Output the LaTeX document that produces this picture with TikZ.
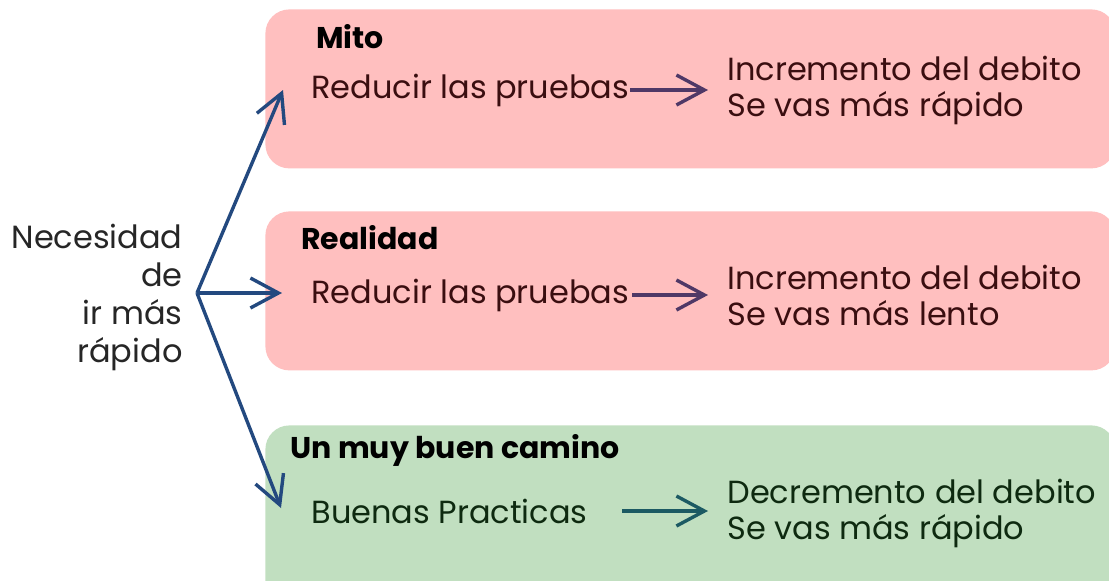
\documentclass[tikz,border=0pt]{standalone}
\usepackage{fontspec}
\setmainfont{Poppins}
\usetikzlibrary{arrows.meta}

\definecolor{rosa}{HTML}{FFBFBF}
\definecolor{verde}{HTML}{C1DFC0}
\definecolor{azul}{HTML}{23497F}
\definecolor{morado}{HTML}{4F3866}
\definecolor{petroleo}{HTML}{1C5A63}
\definecolor{granate}{HTML}{3A0E10}
\definecolor{bosque}{HTML}{0E2A10}

\begin{document}
\begin{tikzpicture}[
        x=0.5pt, y=-0.5pt,
        font=\fontsize{16}{18}\selectfont,
        caja/.style={
            rectangle, rounded corners=12pt, anchor=north west,
            minimum width=425pt, minimum height=79.5pt, inner sep=0pt
        },
        titulo/.style={anchor=west, inner sep=0pt, font=\fontsize{15}{18}\selectfont\bfseries},
        texto/.style={anchor=west, align=left, inner sep=0pt},
        flecha/.style={-{Straight Barb[length=14pt,width=15pt]}, line width=1.7pt}
    ]

        \useasboundingbox (0,0) rectangle (1109,580);

        % Cajas
        \node[caja, fill=rosa] (mito) at (265,9) {};
        \node[caja, fill=rosa] (realidad) at (265,211) {};
        \node[caja, fill=verde, minimum height=90pt] (camino) at (265,425) {};

        % Titulos
        \node[titulo] (tmito) at (316,37) {Mito};
        \node[titulo] (treal) at (301,238) {Realidad};
        \node[titulo] (tcamino) at (290,450) {Un muy buen camino};

        % Origen
        \node[anchor=east, align=right, inner sep=0pt, text=black!85,
              font=\fontsize{16}{19}\selectfont] (necesidad) at (183,297)
            {Necesidad\\de\\ir más\\rápido};
        \coordinate (abanico) at (197,293);

        % Mito
        \node[texto, text=granate] (red1) at (311,90) {Reducir las pruebas};
        \node[texto, text=granate] (inc1) at (727,90) {Incremento del debito\\Se vas más rápido};

        % Realidad
        \node[texto, text=granate] (red2) at (311,295) {Reducir las pruebas};
        \node[texto, text=granate] (inc2) at (727,295) {Incremento del debito\\Se vas más lento};

        % Buen camino
        \node[texto, text=bosque] (buenas) at (311,511) {Buenas Practicas};
        \node[texto, text=bosque] (dec) at (727,513) {Decremento del debito\\Se vas más rápido};

        % Flechas desde la necesidad
        \coordinate (p1) at (283,90);
        \coordinate (p2) at (282,293);
        \coordinate (p3) at (281,508);
        \draw[flecha, azul] (abanico) -- (p1);
        \draw[flecha, azul] (abanico) -- (p2);
        \draw[flecha, azul] (abanico) -- (p3);

        % Flechas internas
        \coordinate (q1) at (630,90);
        \coordinate (r1) at (708,90);
        \coordinate (q2) at (632,295);
        \coordinate (r2) at (708,295);
        \coordinate (q3) at (622,511);
        \coordinate (r3) at (708,511);
        \draw[flecha, morado] (q1) -- (r1);
        \draw[flecha, morado] (q2) -- (r2);
        \draw[flecha, petroleo] (q3) -- (r3);

    \end{tikzpicture}
\end{document}
